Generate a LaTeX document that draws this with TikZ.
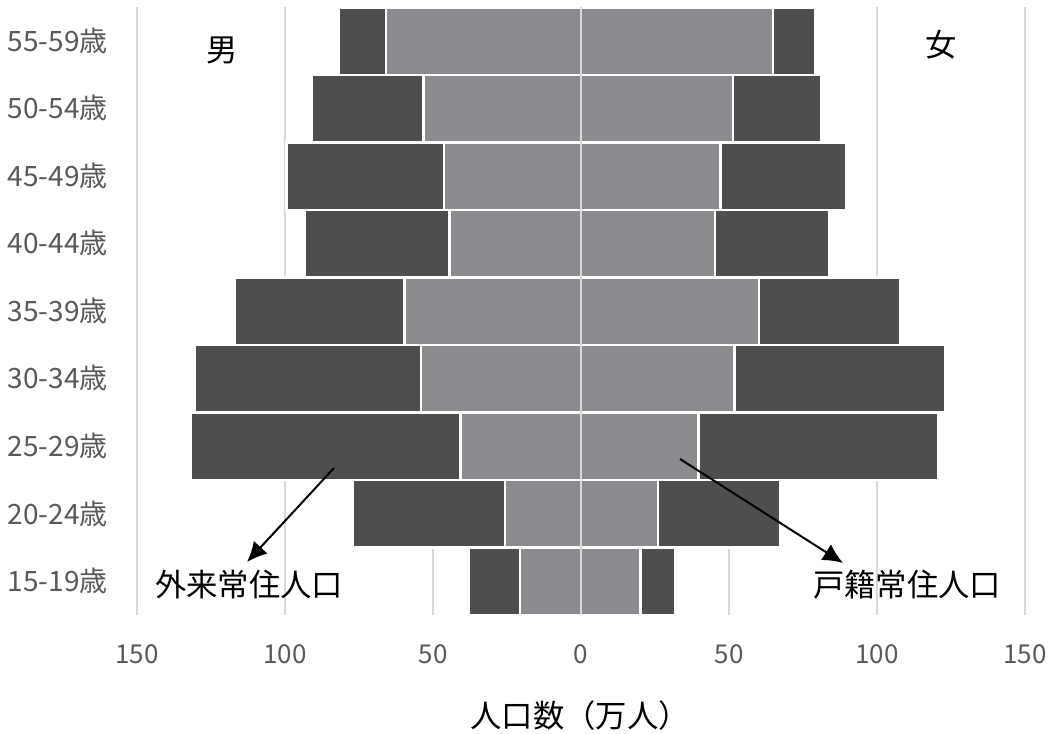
\documentclass[tikz,border=0pt]{standalone}
\usepackage{fontspec}
\newfontfamily\cjk{Noto Sans CJK JP}
\usetikzlibrary{arrows.meta}
\definecolor{darkbar}{RGB}{77,78,80}
\definecolor{lightbar}{RGB}{138,139,142}
\definecolor{gridgray}{RGB}{217,217,217}
\definecolor{labelgray}{RGB}{89,89,89}
\tikzset{
  dkbar/.style={fill=darkbar,draw=white,line width=2pt},
  ltbar/.style={fill=lightbar,draw=white,line width=2pt},
  gridline/.style={draw=gridgray,line width=2pt},
  agelabel/.style={anchor=base east,inner sep=0.75pt,text=labelgray,font=\cjk\fontsize{21}{23}\selectfont},
  ticklabel/.style={anchor=base,inner sep=0.75pt,text=labelgray,font=\cjk\fontsize{19.5}{21}\selectfont},
  titlelabel/.style={inner sep=0.75pt,font=\cjk\fontsize{23.5}{26}\selectfont},
  callout/.style={draw=black,line width=1.5pt,-{Latex[length=15pt,width=14pt]}}
}

\begin{document}
\begin{tikzpicture}[x=0.75pt,y=0.75pt,yscale=-1,xscale=1]
\useasboundingbox (0,0) rectangle (1054,734);

%Grid lines behind the bars
\foreach \v in {-150,-100,-50,50,100,150}
  \draw[gridline] ({581+2.96*\v},7.5) -- ({581+2.96*\v},615);

%Bars: row / male total / male hukou / female hukou / female total
\foreach \i/\mt/\ml/\fl/\ft in {0/82.0/65.9/64.9/79.0, 1/91.1/53.2/51.3/81.2,
    2/99.6/46.3/47.1/89.5, 3/93.3/44.4/45.3/84.0, 4/117.0/59.7/60.1/108.0,
    5/130.6/54.0/51.9/123.1, 6/132.0/40.8/39.7/120.6, 7/77.2/25.7/26.0/67.2,
    8/38.0/20.6/20.0/31.9}{
  \draw[dkbar] ({581-2.96*\mt},{7.5+67.5*\i}) rectangle ({581-2.96*\ml},{75+67.5*\i});
  \draw[ltbar] ({581-2.96*\ml},{7.5+67.5*\i}) rectangle (581,{75+67.5*\i});
  \draw[ltbar] (581,{7.5+67.5*\i}) rectangle ({581+2.96*\fl},{75+67.5*\i});
  \draw[dkbar] ({581+2.96*\fl},{7.5+67.5*\i}) rectangle ({581+2.96*\ft},{75+67.5*\i});
}

%Zero line on top
\draw[gridline] (581,7.5) -- (581,615);

% Age labels
\foreach \i/\a in {0/55-59,1/50-54,2/45-49,3/40-44,4/35-39,5/30-34,6/25-29,7/20-24,8/15-19}
  \draw (109,{51.5+67.5*\i}) node (age\i) [agelabel] {\a 歳};

% Tick labels
\foreach \v/\t in {-150/150,-100/100,-50/50,0/0,50/50,100/100,150/150}
  \draw ({581+2.96*\v},663) node (tick\t\v) [ticklabel] {\t};

% Text Node
\draw (222,50) node (nan) [titlelabel] {男};
% Text Node
\draw (941,45) node (nv) [titlelabel] {女};
% Text Node
\draw (249,585) node (wailai) [titlelabel] {外来常住人口};
% Text Node
\draw (907,585) node (huji) [titlelabel] {戸籍常住人口};
% Text Node
\draw (580,716) node (xtitle) [titlelabel] {人口数（万人）};

%Arrows
\coordinate (lstart) at (334,468);
\coordinate (ltip) at (247,562);
\coordinate (rstart) at (680,459);
\coordinate (rtip) at (843,563);
\draw[callout] (lstart) -- (ltip);
\draw[callout] (rstart) -- (rtip);

\end{tikzpicture}
\end{document}
